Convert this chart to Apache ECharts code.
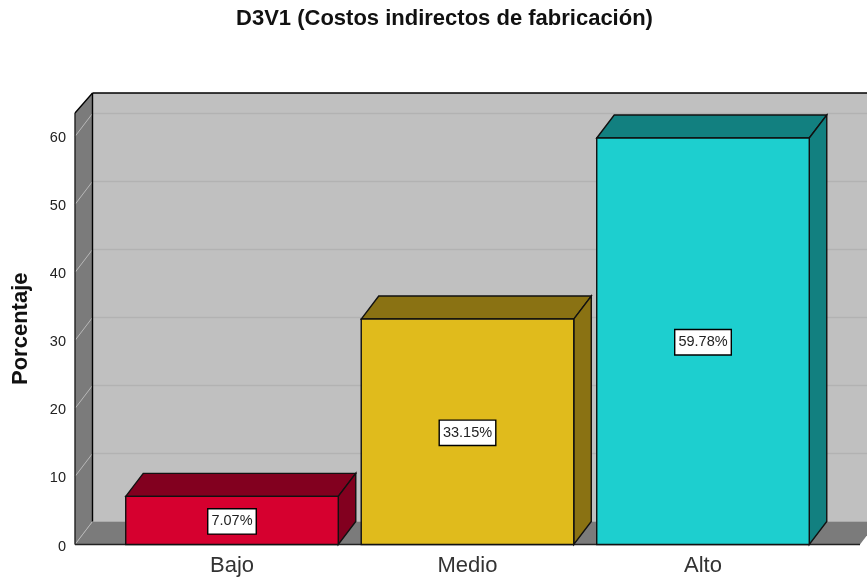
<!DOCTYPE html>
<html>
<head>
<meta charset="utf-8">
<title>D3V1</title>
<script src="https://cdn.jsdelivr.net/npm/echarts@6/dist/echarts.min.js"></script>
<style>
  html, body { margin: 0; padding: 0; background: #fff; }
  #chart { width: 867px; height: 581px; overflow: hidden; }
</style>
</head>
<body>
<div id="chart"></div>
<script>
const categories = ['Bajo', 'Medio', 'Alto'];
const percentages = [7.07, 33.15, 59.78];
const tickValues = [0, 10, 20, 30, 40, 50, 60];

const frontColors = ['#d6002f', '#e0bb1c', '#1dcfcf'];
const shadeColors = ['#82001f', '#8a7213', '#128080'];

// depth of the fake 3d box
const DEPTH_X = 17.5;
const DEPTH_Y = 23;
const WALL_TOP_RISE = 20;
const FONT = '"Liberation Sans", Arial, sans-serif';

const chart = echarts.init(document.getElementById('chart'), null, { renderer: 'canvas' });

function poly(points, fill, stroke) {
  return {
    type: 'polygon',
    shape: { points },
    style: { fill, stroke: stroke || 'none', lineWidth: 1.4 },
  };
}

function seg(x1, y1, x2, y2, stroke, width) {
  return {
    type: 'line',
    shape: { x1, y1, x2, y2 },
    style: { stroke, lineWidth: width || 1.4, fill: 'none' },
  };
}

// back wall, left wall, floor and the grid lines on them
function renderBox(params, api) {
  const grid = params.coordSys;
  const left = grid.x - 39.25;
  const right = grid.x + grid.width + 39.25;
  const top = grid.y;
  const bottom = grid.y + grid.height;
  const backTop = top - WALL_TOP_RISE;
  const children = [
    poly([[left + DEPTH_X, backTop], [right + DEPTH_X, backTop], [right + DEPTH_X, bottom - DEPTH_Y], [left + DEPTH_X, bottom - DEPTH_Y]], '#c0c0c0'),
    poly([[left, top], [left + DEPTH_X, backTop], [left + DEPTH_X, bottom - DEPTH_Y], [left, bottom]], '#7b7b7b'),
    poly([[left, bottom], [left + DEPTH_X, bottom - DEPTH_Y], [right + DEPTH_X, bottom - DEPTH_Y], [right, bottom]], '#7b7b7b'),
  ];
  tickValues.forEach((tick) => {
    if (tick === 0) {
      children.push(seg(left, bottom, left + DEPTH_X, bottom - DEPTH_Y, '#b8b8b8', 1));
      return;
    }
    const y = api.coord([0, tick])[1];
    children.push(seg(left + DEPTH_X, y - DEPTH_Y, right + DEPTH_X, y - DEPTH_Y, '#b2b2b2', 1.6));
    children.push(seg(left, y, left + DEPTH_X, y - DEPTH_Y, '#b8b8b8', 1));
  });
  children.push(seg(left + DEPTH_X, backTop, right + DEPTH_X, backTop, '#000'));
  children.push(seg(left + DEPTH_X, backTop, left + DEPTH_X, bottom - DEPTH_Y, '#000'));
  children.push(seg(left, top, left + DEPTH_X, backTop, '#000'));
  children.push(seg(left, top, left, bottom, '#222'));
  children.push(seg(left, bottom, right, bottom, '#222'));
  return { type: 'group', children };
}

function renderBar(params, api) {
  const idx = params.dataIndex;
  const base = api.coord([idx, 0]);
  const peak = api.coord([idx, api.value(1)]);
  const halfW = api.size([1, 0])[0] * 0.9025 / 2;
  const x0 = base[0] - halfW;
  const x1 = base[0] + halfW;
  const y0 = peak[1];
  const y1 = base[1];
  const front = frontColors[idx];
  const shade = shadeColors[idx];
  return {
    type: 'group',
    children: [
      poly([[x0, y0], [x0 + DEPTH_X, y0 - DEPTH_Y], [x1 + DEPTH_X, y0 - DEPTH_Y], [x1, y0]], shade, '#111'),
      poly([[x1, y0], [x1 + DEPTH_X, y0 - DEPTH_Y], [x1 + DEPTH_X, y1 - DEPTH_Y], [x1, y1]], shade, '#111'),
      poly([[x0, y0], [x1, y0], [x1, y1], [x0, y1]], front, '#111'),
      {
        type: 'text',
        style: {
          x: base[0],
          y: (y0 + y1) / 2 + 1,
          text: api.value(1).toFixed(2) + '%',
          align: 'center',
          verticalAlign: 'middle',
          fill: '#222',
          font: '14.5px ' + FONT,
          backgroundColor: '#fff',
          borderColor: '#000',
          borderWidth: 1.4,
          padding: [5, 3, 4, 3],
        },
      },
    ],
  };
}

const options = {
  animation: false,
  backgroundColor: '#fff',
  textStyle: { fontFamily: FONT },
  title: {
    text: 'D3V1 (Costos indirectos de fabricación)',
    left: 439.5,
    top: 3,
    textAlign: 'center',
    textStyle: { fontSize: 22, fontWeight: 'bold', color: '#111', fontFamily: FONT },
  },
  grid: { left: 114.25, right: 46.25, top: 113, bottom: 36.5 },
  xAxis: {
    type: 'category',
    data: categories,
    axisLine: { show: false },
    axisTick: { show: false },
    axisLabel: { color: '#333', fontSize: 22, margin: 10, fontFamily: FONT },
  },
  yAxis: {
    type: 'value',
    min: 0,
    max: 63.45,
    interval: 10,
    offset: 39.25,
    name: 'Porcentaje',
    nameLocation: 'middle',
    nameGap: 43,
    nameTextStyle: { fontSize: 22, fontWeight: 'bold', color: '#111', fontFamily: FONT },
    axisLine: { show: false },
    axisTick: { show: false },
    splitLine: { show: false },
    axisLabel: {
      margin: 9,
      formatter: (v) => (tickValues.indexOf(v) >= 0 ? '{t|' + v + '}' : ''),
      rich: {
        t: { color: '#222', fontSize: 14.5, fontFamily: FONT, padding: [4, 0, 0, 0] },
      },
    },
  },
  series: [
    {
      type: 'custom',
      name: 'box',
      renderItem: renderBox,
      data: [[0, 0]],
      silent: true,
      z: 1,
    },
    {
      type: 'custom',
      name: 'Porcentaje',
      renderItem: renderBar,
      data: percentages.map((v, i) => [i, v]),
      encode: { x: 0, y: 1 },
      z: 2,
    },
  ],
};

chart.setOption(options);
</script>
</body>
</html>
